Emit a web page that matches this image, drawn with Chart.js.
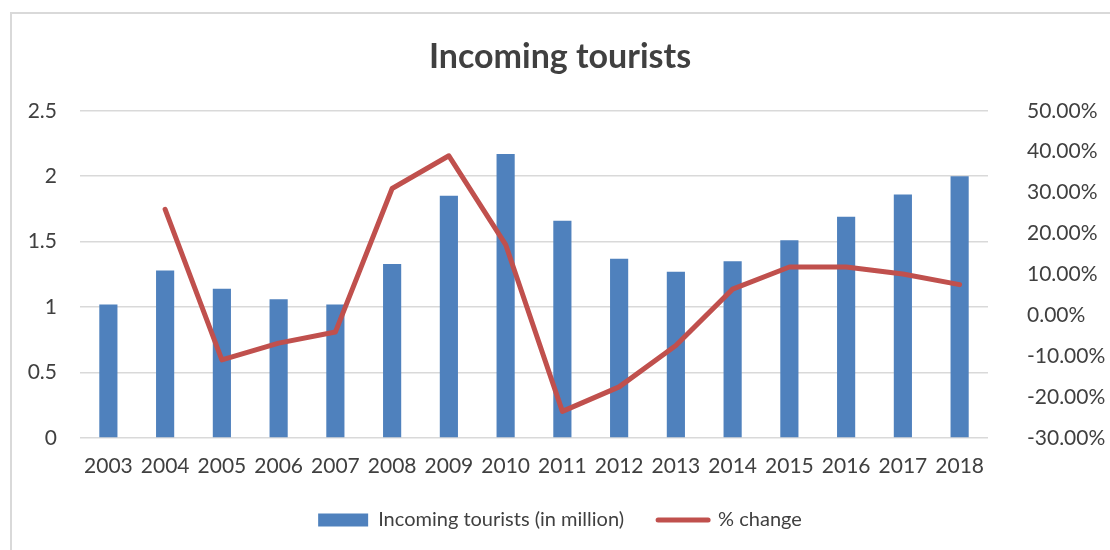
<!DOCTYPE html>
<html>
<head>
<meta charset="utf-8">
<script src="https://cdn.jsdelivr.net/npm/chart.js@4.4.0/dist/chart.umd.min.js"></script>
<style>
  body { margin: 0; background: #fff; }
  #frame { position: absolute; left: 10px; top: 12px; width: 1200px; height: 600px;
           border-top: 2px solid #d9d9d9; border-left: 2px solid #d9d9d9; }
  #wrap { position: absolute; left: 0; top: 0; width: 1110px; height: 550px; }
</style>
</head>
<body>
<div id="frame"></div>
<div id="wrap"><canvas id="tourist-chart"></canvas></div>
<script>
// --- Data ---
const years = ['2003', '2004', '2005', '2006', '2007', '2008', '2009', '2010',
               '2011', '2012', '2013', '2014', '2015', '2016', '2017', '2018'];
const touristsMillion = [1.02, 1.28, 1.14, 1.06, 1.02, 1.33, 1.85, 2.17,
                         1.66, 1.37, 1.27, 1.35, 1.51, 1.69, 1.86, 2.00];
const pctChange = [null, 25.9, -10.9, -6.8, -4.1, 31.0, 39.0, 17.3,
                   -23.5, -17.5, -7.4, 6.4, 11.8, 11.8, 10.1, 7.5];
const leftTicks = {min: 0, max: 2.5, step: 0.5};
const rightTicks = {min: -30, max: 50, step: 10};

const barLabel = 'Incoming tourists (in million)';
const lineLabel = '% change';
const barColor = '#4F81BD';
const lineColor = '#C0504D';
const textColor = '#404040';
const gridColor = '#D9D9D9';
const fontFamily = 'Lato, "Open Sans", sans-serif';

const ctx = document.getElementById('tourist-chart').getContext('2d');
const touristChart = new Chart(ctx, {
    type: 'bar',
    data: {
        labels: years,
        datasets: [
            {
                // line first so it is painted over the bars
                type: 'line',
                label: lineLabel,
                data: pctChange,
                yAxisID: 'yRight',
                borderColor: lineColor,
                backgroundColor: lineColor,
                borderWidth: 5,
                borderCapStyle: 'round',
                borderJoinStyle: 'round',
                pointRadius: 0,
                tension: 0
            },
            {
                type: 'bar',
                label: barLabel,
                data: touristsMillion,
                yAxisID: 'yLeft',
                backgroundColor: barColor,
                barPercentage: 0.32,
                categoryPercentage: 1
            }
        ]
    },
    options: {
        responsive: true,
        maintainAspectRatio: false,
        animation: false,
        layout: {padding: {left: 10, right: 0, top: 0, bottom: 10}},
        font: {family: fontFamily},
        plugins: {
            title: {
                display: true,
                text: 'Incoming tourists',
                color: textColor,
                font: {family: fontFamily, size: 34, weight: 'bold'},
                padding: {top: 37, bottom: 33}
            },
            legend: {
                position: 'bottom',
                labels: {
                    color: textColor,
                    font: {family: fontFamily, size: 20},
                    usePointStyle: true,
                    pointStyleWidth: 50,
                    boxHeight: 13,
                    padding: 34,
                    generateLabels: chart => [
                        {text: barLabel, fillStyle: barColor, strokeStyle: barColor, lineWidth: 0,
                         pointStyle: 'rect', datasetIndex: 1, fontColor: textColor},
                        {text: lineLabel, fillStyle: lineColor, strokeStyle: lineColor, lineWidth: 5,
                         lineCap: 'round', pointStyle: 'line', datasetIndex: 0, fontColor: textColor}
                    ]
                }
            },
            tooltip: {enabled: false}
        },
        scales: {
            x: {
                offset: true,
                afterFit: scale => { scale.height = 38; },
                grid: {display: false, drawTicks: false},
                border: {display: false},
                ticks: {color: textColor, font: {family: fontFamily, size: 21}, padding: 16, maxRotation: 0}
            },
            yLeft: {
                position: 'left',
                min: leftTicks.min,
                max: leftTicks.max,
                afterFit: scale => { scale.width = 70; },
                grid: {color: gridColor, lineWidth: 1.5, drawTicks: false},
                border: {display: false},
                ticks: {stepSize: leftTicks.step, color: textColor,
                        font: {family: fontFamily, size: 21}, padding: 23,
                        callback: v => String(Math.round(v * 10) / 10)}
            },
            yRight: {
                position: 'right',
                min: rightTicks.min,
                max: rightTicks.max,
                afterFit: scale => { scale.width = 122; },
                grid: {display: false, drawTicks: false},
                border: {display: false},
                ticks: {stepSize: rightTicks.step, color: textColor,
                        font: {family: fontFamily, size: 21}, padding: 39,
                        callback: v => v.toFixed(2) + '%'}
            }
        }
    }
});
</script>
</body>
</html>
